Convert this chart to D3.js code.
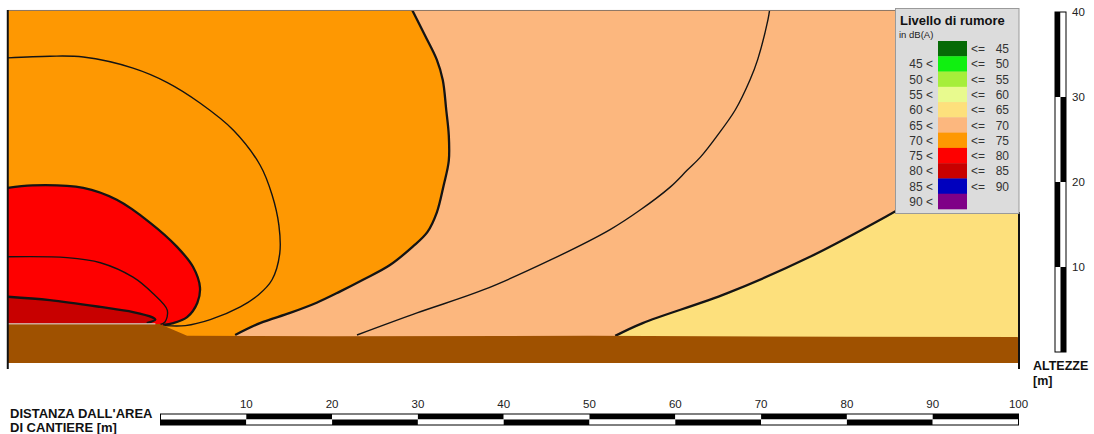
<!DOCTYPE html>
<html>
<head>
<meta charset="utf-8">
<script src="https://cdn.jsdelivr.net/npm/d3@7"></script>
<style>
  html, body { margin: 0; padding: 0; background: #fff; }
  svg { display: block; font-family: "Liberation Sans", Arial, sans-serif; }
</style>
</head>
<body>
<svg id="chart" width="1094" height="434"></svg>
<script>
// ---- Section extent (metres: distance from the site, height) ----
const sectionX = [-17.8, 100];
const sectionTop = 40.24;
const groundBase = -1.3;

// Ground profile (top edge), metres
const groundTop = [[-17.8, 3.3], [-0.1, 3.3], [3.1, 1.9], [20, 1.85], [50, 1.9], [80, 1.8], [100, 1.75]];

// Isolines, metres [distance, height]
const iso80 = [[-17.8, 6.5], [-12.9, 6.1], [-7.0, 5.3], [-3.2, 4.7], [-1.0, 4.1], [-0.6, 3.8], [-1.6, 3.4]];
const iso775 = [[-17.8, 11.2], [-10.9, 11.1], [-7.0, 10.5], [-3.2, 8.8], [-0.9, 6.9], [0.8, 4.9], [0.5, 3.5], [-0.1, 3.2]];
const iso75 = [[-17.8, 19.3], [-14.9, 19.6], [-9.0, 19.3], [-5.1, 17.9], [-1.2, 15.2], [1.9, 12.4], [3.8, 10.0],
               [4.6, 7.6], [4.3, 5.8], [3.1, 4.1], [1.5, 3.4], [0.3, 3.2]];
const iso725 = [[-17.8, 34.6], [-12.9, 34.8], [-9.0, 34.7], [-3.2, 33.4], [0.8, 31.7], [4.6, 29.3], [8.5, 26.1],
                [11.6, 22.0], [13.0, 18.5], [13.8, 14.9], [13.9, 11.6], [13.0, 8.5], [11.4, 6.7], [9.3, 5.3],
                [5.8, 3.8], [2.9, 3.1], [0.5, 3.1]];
const iso70 = [[29.3, 40.3], [30.8, 37.3], [32.2, 34.4], [32.9, 32.0], [33.3, 28.5], [33.6, 25.5], [33.6, 22.5],
               [33.0, 19.6], [32.2, 16.4], [31.1, 14.1], [29.4, 12.4], [26.7, 10.2], [23.6, 8.5], [20.9, 7.1],
               [18.2, 5.8], [15.1, 4.6], [11.6, 3.4], [8.7, 2.0]];
const iso675 = [[71.0, 40.3], [70.8, 39.1], [69.6, 34.4], [68.7, 32.0], [67.0, 28.5], [64.7, 25.2], [62.9, 22.9],
                [61.4, 21.4], [59.4, 19.4], [55.9, 16.7], [52.4, 14.4], [45.4, 10.8], [37.6, 7.3], [29.9, 4.6],
                [22.9, 2.0]];
const iso65 = [[100, 24.9], [92.0, 20.2], [85.4, 16.4], [75.7, 11.2], [66.0, 6.9], [56.2, 3.4], [53.0, 1.9]];

// Legend classes
const legendLow = [null, 45, 50, 55, 60, 65, 70, 75, 80, 85, 90];
const legendHigh = [45, 50, 55, 60, 65, 70, 75, 80, 85, 90, null];
const legendColors = ["#066a06", "#10f010", "#a6ee3a", "#e8fa8e", "#fde07c", "#fcb77e", "#fe9802",
                      "#fe0000", "#c80000", "#0000be", "#7f0087"];

// Scale bar ticks
const distanceTicks = [10, 20, 30, 40, 50, 60, 70, 80, 90, 100];
const heightTicks = [10, 20, 30, 40];

const svg = d3.select("#chart");
const x = d3.scaleLinear().domain([0, 100]).range([160.5, 1018.5]);
const y = d3.scaleLinear().domain([0, 40]).range([352, 12]);

const colorOf = c => legendColors[legendLow.indexOf(c)];

// clip to the section frame
svg.append("defs").append("clipPath").attr("id", "plotClip")
  .append("rect")
  .attr("x", x(sectionX[0])).attr("y", y(sectionTop))
  .attr("width", x(sectionX[1]) - x(sectionX[0]))
  .attr("height", y(groundBase) - y(sectionTop));

const plot = svg.append("g").attr("clip-path", "url(#plotClip)");

const curve = d3.line().x(d => x(d[0])).y(d => y(d[1])).curve(d3.curveCatmullRom.alpha(0.5));
const pt = p => `L${x(p[0])},${y(p[1])}`;
const band = (pts, closing) => curve(pts) + closing.map(pt).join("") + "Z";

// base band 60-65
plot.append("rect")
  .attr("x", x(sectionX[0])).attr("y", y(sectionTop))
  .attr("width", x(sectionX[1]) - x(sectionX[0]))
  .attr("height", y(groundBase) - y(sectionTop))
  .attr("fill", colorOf(60));

// 65-70
plot.append("path")
  .attr("d", band(iso65, [[53.0, groundBase], [sectionX[0], groundBase], [sectionX[0], sectionTop + 1], [sectionX[1], sectionTop + 1]]))
  .attr("fill", colorOf(65));
// 70-75
plot.append("path")
  .attr("d", band(iso70, [[8.7, groundBase], [sectionX[0], groundBase], [sectionX[0], sectionTop + 1], [29.3, sectionTop + 1]]))
  .attr("fill", colorOf(70));
// 75-80
plot.append("path")
  .attr("d", band(iso75, [[0.3, groundBase], [sectionX[0], groundBase]]))
  .attr("fill", colorOf(75));
// 80-85
plot.append("path")
  .attr("d", band(iso80, [[-1.6, groundBase], [sectionX[0], groundBase]]))
  .attr("fill", colorOf(80));

// isolines
const isolines = [
  { pts: iso65, w: 2.3 }, { pts: iso675, w: 1.4 }, { pts: iso70, w: 2.3 }, { pts: iso725, w: 1.4 },
  { pts: iso75, w: 2.3 }, { pts: iso775, w: 1.4 }, { pts: iso80, w: 2.3 }
];
plot.selectAll("path.iso").data(isolines).join("path")
  .attr("class", "iso")
  .attr("d", d => curve(d.pts))
  .attr("fill", "none")
  .attr("stroke", "#141414")
  .attr("stroke-width", d => d.w)
  .attr("stroke-linejoin", "round");

// ground
const groundArea = d3.area().x(d => x(d[0])).y0(y(groundBase)).y1(d => y(d[1]));
plot.append("path").attr("d", groundArea(groundTop)).attr("fill", "#9f5100");

// work-site strip on the ground
plot.append("line")
  .attr("x1", x(sectionX[0])).attr("x2", x(-0.6))
  .attr("y1", y(3.33)).attr("y2", y(3.33))
  .attr("stroke", "#d8c8c0").attr("stroke-width", 1.6).attr("opacity", 0.8);

// frame
svg.append("line")
  .attr("x1", x(sectionX[0])).attr("x2", x(sectionX[1]))
  .attr("y1", y(sectionTop) + 0.5).attr("y2", y(sectionTop) + 0.5)
  .attr("stroke", "#8a7666").attr("stroke-width", 1);
svg.append("line")
  .attr("x1", x(sectionX[0])).attr("x2", x(sectionX[0]))
  .attr("y1", y(sectionTop)).attr("y2", 369)
  .attr("stroke", "#111").attr("stroke-width", 2);
svg.append("line")
  .attr("x1", x(sectionX[1]) + 0.5).attr("x2", x(sectionX[1]) + 0.5)
  .attr("y1", 212).attr("y2", 369)
  .attr("stroke", "#111").attr("stroke-width", 2);

// ---- legend ----
const lg = svg.append("g");
lg.append("rect")
  .attr("x", 895.5).attr("y", 8.5).attr("width", 123.5).attr("height", 205)
  .attr("fill", "#dcdcdc").attr("stroke", "#9a9a9a").attr("stroke-width", 1);
lg.append("text").attr("x", 900).attr("y", 25)
  .attr("font-size", 13).attr("font-weight", "bold").attr("fill", "#111")
  .text("Livello di rumore");
lg.append("text").attr("x", 899).attr("y", 38)
  .attr("font-size", 9.5).attr("fill", "#222")
  .text("in dB(A)");

const rowBand = d3.scaleBand().domain(d3.range(legendColors.length)).range([41, 209]);
const rows = lg.selectAll("g.row").data(legendColors.map((c, i) => ({ c, lo: legendLow[i], hi: legendHigh[i], i })))
  .join("g").attr("class", "row");
rows.append("rect")
  .attr("x", 938).attr("width", 29)
  .attr("y", d => rowBand(d.i)).attr("height", rowBand.bandwidth() + 0.3)
  .attr("fill", d => d.c);
rows.filter(d => d.lo !== null).append("text")
  .attr("x", 933).attr("y", d => rowBand(d.i) + rowBand.bandwidth() / 2 + 4.5)
  .attr("text-anchor", "end").attr("font-size", 12).attr("fill", "#333")
  .text(d => `${d.lo} <`);
rows.filter(d => d.hi !== null).append("text")
  .attr("x", 971).attr("y", d => rowBand(d.i) + rowBand.bandwidth() / 2 + 4.5)
  .attr("font-size", 12).attr("fill", "#333")
  .text("<=");
rows.filter(d => d.hi !== null).append("text")
  .attr("x", 1009).attr("y", d => rowBand(d.i) + rowBand.bandwidth() / 2 + 4.5)
  .attr("text-anchor", "end").attr("font-size", 12).attr("fill", "#333")
  .text(d => d.hi);

// ---- vertical scale bar (ALTEZZE) ----
const vb = svg.append("g");
const vLeft = 1055, vMid = 1060.5, vRight = 1066;
const vSegs = d3.range(4);
vb.selectAll("rect.vl").data(vSegs).join("rect")
  .attr("x", vLeft).attr("width", vMid - vLeft)
  .attr("y", i => y((i + 1) * 10)).attr("height", i => y(i * 10) - y((i + 1) * 10))
  .attr("fill", i => (i % 2 === 0 ? "#fff" : "#000"));
vb.selectAll("rect.vr").data(vSegs).join("rect")
  .attr("x", vMid).attr("width", vRight - vMid)
  .attr("y", i => y((i + 1) * 10)).attr("height", i => y(i * 10) - y((i + 1) * 10))
  .attr("fill", i => (i % 2 === 0 ? "#000" : "#fff"));
vb.append("rect")
  .attr("x", vLeft).attr("y", y(40)).attr("width", vRight - vLeft).attr("height", y(0) - y(40))
  .attr("fill", "none").attr("stroke", "#000").attr("stroke-width", 1);
vb.selectAll("text.vt").data(heightTicks).join("text")
  .attr("x", 1072).attr("y", d => y(d) + 4)
  .attr("font-size", 11.5).attr("fill", "#222")
  .text(d => d);
vb.append("text").attr("x", 1033).attr("y", 370)
  .attr("font-size", 12.5).attr("font-weight", "bold").attr("fill", "#111").text("ALTEZZE");
vb.append("text").attr("x", 1033).attr("y", 385)
  .attr("font-size", 12.5).attr("font-weight", "bold").attr("fill", "#111").text("[m]");

// ---- horizontal scale bar (DISTANZA) ----
const hb = svg.append("g");
const hTop = 414, hMid = 419.5, hBot = 425;
const hSegs = d3.range(10);
hb.selectAll("rect.ht").data(hSegs).join("rect")
  .attr("x", i => x(i * 10)).attr("width", i => x((i + 1) * 10) - x(i * 10))
  .attr("y", hTop).attr("height", hMid - hTop)
  .attr("fill", i => (i % 2 === 0 ? "#fff" : "#000"));
hb.selectAll("rect.hb").data(hSegs).join("rect")
  .attr("x", i => x(i * 10)).attr("width", i => x((i + 1) * 10) - x(i * 10))
  .attr("y", hMid).attr("height", hBot - hMid)
  .attr("fill", i => (i % 2 === 0 ? "#000" : "#fff"));
hb.append("rect")
  .attr("x", x(0)).attr("y", hTop).attr("width", x(100) - x(0)).attr("height", hBot - hTop)
  .attr("fill", "none").attr("stroke", "#000").attr("stroke-width", 1);
hb.selectAll("text.hl").data(distanceTicks).join("text")
  .attr("x", d => x(d)).attr("y", 408)
  .attr("text-anchor", "middle").attr("font-size", 11.5).attr("fill", "#222")
  .text(d => d);
hb.append("text").attr("x", 10).attr("y", 418)
  .attr("font-size", 13).attr("font-weight", "bold").attr("fill", "#111").text("DISTANZA DALL'AREA");
hb.append("text").attr("x", 10).attr("y", 432)
  .attr("font-size", 13).attr("font-weight", "bold").attr("fill", "#111").text("DI CANTIERE [m]");
</script>
</body>
</html>
